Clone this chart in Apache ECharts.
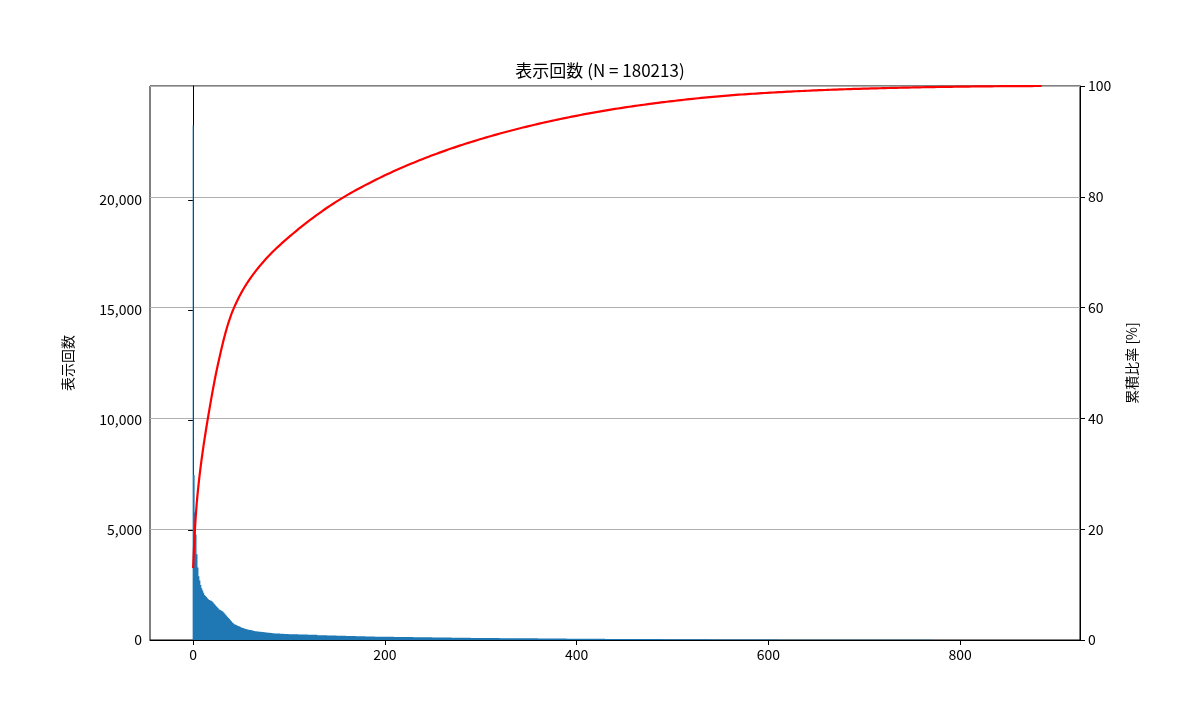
<!DOCTYPE html><html><head><meta charset="utf-8"><script src="https://cdn.jsdelivr.net/npm/echarts@6/dist/echarts.min.js"></script>
<style>body{margin:0}#c{width:1200px;height:720px}</style></head><body><div id="c"></div><script>
const headValues=[23400,7500,5800,4800,3900,3300,2900,2700,2500,2350,
2250,2150,2050,2000,1950,1900,1850,1820,1800,1780,
1750,1700,1650,1600,1550,1500,1450,1400,1380,1350,
1320,1300,1250,1200,1150,1100,1050,1000,950,900,
850,800,760,720,700,680,660,640,620,600,
580,560,545,530,515,500,490,480,470,460,
450,440,430,420,410,400,395,390,385,380,
375,370,365,360,355,350,345,340,335,330,
325,320,315,310,305,300,298,296,294,292,
290,288,285,282,280,278,275,272,270,268];
const tailValues=[262,248,234,220,205,190,178,168,160,152,
145,138,132,126,120,115,110,105,100,96,
92,88,84,80,77,74,71,68,65,62,
60,57,54,51,48,46,44,42,40,38,
36,34,32,30,28,26,24,22,20,19,
18,17,16,15,14,13,12,11,10,9,
9,8,8,7,7,6,6,5,5,5,
4,4,3,3,2,2,2,1,1];
const tailCounts=tailValues.map((v,i)=>i===tailValues.length-1?6:10);
const xTicks=[0,200,400,600,800];
const values=headValues.slice();
tailValues.forEach((v,i)=>{for(let k=0;k<tailCounts[i];k++)values.push(v);});
const total=values.reduce((a,b)=>a+b,0);
let acc=0;const bars=[],cum=[];
values.forEach((v,i)=>{acc+=v;bars.push([i,v]);cum.push([i,acc/total*100]);});
const f='"Noto Sans CJK JP"';
const chart=echarts.init(document.getElementById('c'));
chart.setOption({animation:false,
title:{text:'表示回数 (N = 180213)',left:'center',top:57,textStyle:{fontFamily:f,fontSize:17,fontWeight:'normal',color:'#000'}},
grid:{left:150,right:120,top:86,bottom:80,show:true,borderColor:'#000',borderWidth:1},
xAxis:{type:'value',min:-45,max:925,interval:200,
 axisLine:{lineStyle:{color:'#000'}},splitLine:{show:false},
 axisLabel:{fontFamily:f,fontSize:14,color:'#000',customValues:xTicks},axisTick:{customValues:xTicks,length:5,lineStyle:{color:'#000'}}},
yAxis:[{type:'value',min:0,max:25180,interval:5000,name:'表示回数',nameLocation:'middle',nameGap:75,
 nameTextStyle:{fontFamily:f,fontSize:14,color:'#000'},
 axisLine:{show:true,lineStyle:{color:'#000'}},axisTick:{show:true,lineStyle:{color:'#000'},customValues:[0,5000,10000,15000,20000]},splitLine:{show:false},
 axisLabel:{fontFamily:f,fontSize:14,color:'#000',customValues:[0,5000,10000,15000,20000]}},
 {type:'value',min:0,max:100,interval:20,name:'累積比率 [%]',nameLocation:'middle',nameGap:45,
 nameTextStyle:{fontFamily:f,fontSize:14,color:'#000'},
 axisLine:{show:true,lineStyle:{color:'#000'}},axisTick:{show:true,lineStyle:{color:'#000'}},
 splitLine:{show:true,lineStyle:{color:'#b0b0b0',width:1}},
 axisLabel:{fontFamily:f,fontSize:14,color:'#000'}}],
series:[{type:'bar',data:bars,barWidth:1,itemStyle:{color:'#1f77b4'},large:true},
 {type:'line',yAxisIndex:1,data:cum,showSymbol:false,lineStyle:{color:'#ff0000',width:2.2},itemStyle:{color:'#ff0000'}}]});
</script></body></html>
